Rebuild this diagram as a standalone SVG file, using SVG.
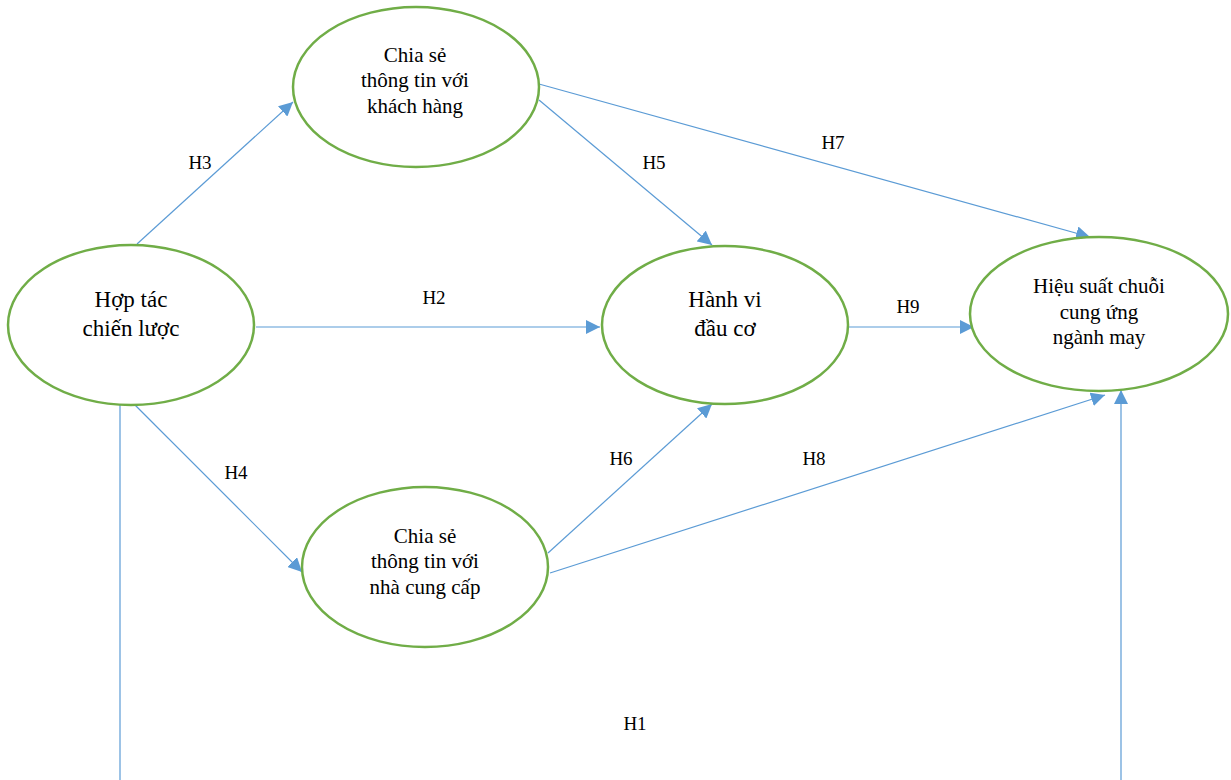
<svg xmlns="http://www.w3.org/2000/svg" width="1231" height="780" viewBox="0 0 1231 780">
<style>
.node{fill:#fff;stroke:#70AD47;stroke-width:2.5}
text{font-family:'Liberation Serif','Times New Roman','DejaVu Serif',serif;fill:#000;text-anchor:middle}
.s{font-size:21px}
.b{font-size:23px}
.lbl{font-size:19px}
.c{stroke:#5B9BD5;stroke-width:1.2;fill:none}
.a{marker-end:url(#arr)}
</style>
<defs>
<marker id="arr" markerUnits="userSpaceOnUse" markerWidth="16" markerHeight="14" refX="14" refY="7" orient="auto">
<path d="M0,0 L14,7 L0,14 z" fill="#5B9BD5"/>
</marker>
</defs>
<rect width="1231" height="780" fill="#fff"/>
<g id="connectors">
<line class="c a" x1="137" y1="244" x2="293" y2="102"/>
<line class="c a" x1="539" y1="100" x2="712" y2="245"/>
<line class="c a" x1="539" y1="84" x2="1090" y2="237"/>
<line class="c a" x1="256" y1="327" x2="600" y2="327"/>
<line class="c a" x1="848" y1="327" x2="974" y2="327"/>
<line class="c a" x1="134" y1="404" x2="302" y2="572"/>
<line class="c a" x1="548" y1="553" x2="712" y2="404"/>
<line class="c a" x1="550" y1="573" x2="1105" y2="395"/>
<line class="c" x1="120" y1="405" x2="120" y2="780"/>
<line class="c a" x1="1121" y1="780" x2="1121" y2="390"/>
<text class="lbl" x="200" y="169" font-family="Liberation Serif, serif">H3</text>
<text class="lbl" x="654" y="169" font-family="Liberation Serif, serif">H5</text>
<text class="lbl" x="833" y="149" font-family="Liberation Serif, serif">H7</text>
<text class="lbl" x="434" y="304" font-family="Liberation Serif, serif">H2</text>
<text class="lbl" x="908" y="313" font-family="Liberation Serif, serif">H9</text>
<text class="lbl" x="236" y="479" font-family="Liberation Serif, serif">H4</text>
<text class="lbl" x="621" y="465" font-family="Liberation Serif, serif">H6</text>
<text class="lbl" x="814" y="465" font-family="Liberation Serif, serif">H8</text>
<text class="lbl" x="635" y="730" font-family="Liberation Serif, serif">H1</text>
</g>
<g id="n1">
<ellipse class="node" cx="416" cy="87" rx="123" ry="80"/>
<text class="s" x="415" y="62">Chia sẻ</text>
<text class="s" x="415" y="87">thông tin với</text>
<text class="s" x="415" y="113">khách hàng</text>
</g>
<g id="n2">
<ellipse class="node" cx="131" cy="325" rx="123" ry="80"/>
<text class="b" x="131" y="307">Hợp tác</text>
<text class="b" x="131" y="336">chiến lược</text>
</g>
<g id="n3">
<ellipse class="node" cx="725" cy="325" rx="123" ry="79"/>
<text class="b" x="725" y="307">Hành vi</text>
<text class="b" x="725" y="336">đầu cơ</text>
</g>
<g id="n4">
<ellipse class="node" cx="1099" cy="314" rx="129" ry="77"/>
<text class="s" x="1099" y="293">Hiệu suất chuỗi</text>
<text class="s" x="1099" y="319">cung ứng</text>
<text class="s" x="1099" y="344">ngành may</text>
</g>
<g id="n5">
<ellipse class="node" cx="425" cy="567" rx="123" ry="80"/>
<text class="s" x="425" y="543">Chia sẻ</text>
<text class="s" x="425" y="568">thông tin với</text>
<text class="s" x="425" y="594">nhà cung cấp</text>
</g>
</svg>
